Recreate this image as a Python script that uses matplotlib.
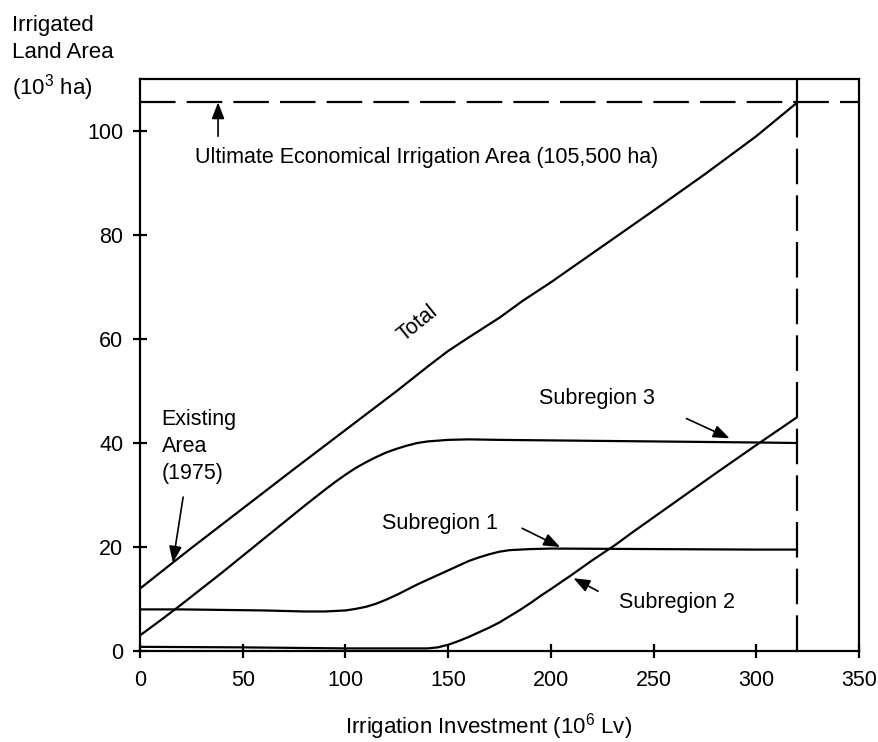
import matplotlib
matplotlib.use("Agg")
import matplotlib.pyplot as plt

plt.rcParams['font.family'] = ['Liberation Sans', 'DejaVu Sans']
plt.rcParams['mathtext.fontset'] = 'custom'
plt.rcParams['mathtext.rm'] = 'Liberation Sans'
plt.rcParams['mathtext.it'] = 'Liberation Sans'

# ---- data ----
total_x = [0, 16, 25, 50, 75, 100, 125, 141, 150, 160, 175, 186.5, 200, 225, 250, 275, 300, 320]
total_y = [12, 17, 19.8, 27.4, 35, 42.5, 50, 55, 57.7, 60.3, 64.1, 67.4, 70.9, 77.8, 84.7, 91.7, 99, 105.5]

sub3_x = [0, 10, 20, 30, 40, 50, 60, 70, 80, 90, 95, 100, 105, 110, 115, 120, 125, 130, 135, 140, 150, 160, 175, 200, 250, 300, 320]
sub3_y = [3, 5.9, 8.9, 12, 15.1, 18.3, 21.5, 24.7, 27.9, 31, 32.5, 33.9, 35.2, 36.3, 37.3, 38.2, 38.9, 39.5, 40, 40.3, 40.6, 40.7, 40.6, 40.5, 40.3, 40.1, 40]

sub1_x = [0, 20, 40, 60, 80, 90, 100, 105, 110, 115, 120, 125, 130, 135, 140, 145, 150, 155, 160, 165, 170, 175, 180, 190, 200, 250, 300, 320]
sub1_y = [8, 8, 7.9, 7.8, 7.6, 7.6, 7.8, 8.1, 8.5, 9.1, 9.9, 10.8, 11.8, 12.8, 13.7, 14.6, 15.5, 16.4, 17.3, 18.0, 18.6, 19.1, 19.4, 19.6, 19.7, 19.6, 19.5, 19.5]

sub2_x = [0, 50, 100, 140, 145, 150, 155, 160, 165, 170, 175, 180, 185, 190, 195, 200, 210, 220, 231, 240, 260, 280, 300, 320]
sub2_y = [0.8, 0.7, 0.5, 0.5, 0.7, 1.2, 1.9, 2.7, 3.6, 4.5, 5.5, 6.7, 7.9, 9.2, 10.6, 11.9, 14.6, 17.4, 20.3, 22.9, 28.5, 34.1, 39.6, 45]

ultimate_area = 105.5
max_investment = 320
x_ticks = [0, 50, 100, 150, 200, 250, 300, 350]
y_ticks = [0, 20, 40, 60, 80, 100]

# ---- figure ----
fig = plt.figure(figsize=(8.79, 7.42), dpi=100)
ax = fig.add_axes([140/879, 1 - 651/742, 719/879, 572/742])
ax.set_xlim(0, 350)
ax.set_ylim(0, 110)

lw = 1.6
for s in ax.spines.values():
    s.set_linewidth(lw)
    s.set_color('black')

curve_kw = dict(color='black', lw=lw, solid_capstyle='butt')
ax.plot(total_x, total_y, **curve_kw)
ax.plot(sub3_x, sub3_y, **curve_kw)
ax.plot(sub1_x, sub1_y, **curve_kw)
ax.plot(sub2_x, sub2_y, **curve_kw)

# ultimate area dashed line and limit line
ax.plot([0, 350], [ultimate_area, ultimate_area], color='black', lw=lw, dashes=(16, 5))
ax.plot([max_investment, max_investment], [ultimate_area, 0], color='black', lw=lw, dashes=(16, 5))
ax.plot([max_investment, max_investment], [ultimate_area, 110], color='black', lw=lw)

ax.set_xticks(x_ticks)
ax.set_yticks(y_ticks)
ax.set_xticklabels([str(v) for v in x_ticks])
ax.set_yticklabels([str(v) for v in y_ticks])
ax.tick_params(axis='both', direction='inout', length=10, width=lw, labelsize=15.5, colors='black')
ax.tick_params(axis='x', pad=9)
ax.tick_params(axis='y', pad=7)

fs = 15.5
arrow_kw = dict(arrowstyle='-|>,head_length=0.9,head_width=0.35', color='black', lw=1.2,
                mutation_scale=11, shrinkA=0, shrinkB=0)

# annotations
ax.text(27, 95, 'Ultimate Economical Irrigation Area (105,500 ha)', fontsize=fs, va='center', ha='left')
ax.annotate('', xy=(38, ultimate_area), xytext=(38, 99), arrowprops=arrow_kw)

ax.text(135, 63, 'Total', fontsize=fs, rotation=39, ha='center', va='center')

ax.text(10.5, 39.3, 'Existing\nArea\n(1975)', fontsize=fs, ha='left', va='center', linespacing=1.39)
ax.annotate('', xy=(16, 17), xytext=(21, 29.6), arrowprops=arrow_kw)

ax.text(118, 24.5, 'Subregion 1', fontsize=fs, ha='left', va='center')
ax.annotate('', xy=(204.5, 20), xytext=(186, 23.6), arrowprops=arrow_kw)

ax.text(194, 48.6, 'Subregion 3', fontsize=fs, ha='left', va='center')
ax.annotate('', xy=(287, 40.9), xytext=(266, 44.7), arrowprops=arrow_kw)

ax.text(233, 9.4, 'Subregion 2', fontsize=fs, ha='left', va='center')
ax.annotate('', xy=(211, 14), xytext=(223, 11.5), arrowprops=arrow_kw)

# axis titles
fig.text(12/879, 1 - 15/742, 'Irrigated\nLand Area\n(10$^3$ ha)', fontsize=16, ha='left', va='top', linespacing=1.4)
fig.text(489/879, 1 - 727/742, 'Irrigation Investment (10$^6$ Lv)', fontsize=16, ha='center', va='center')

fig.savefig('out.png', dpi=100)
